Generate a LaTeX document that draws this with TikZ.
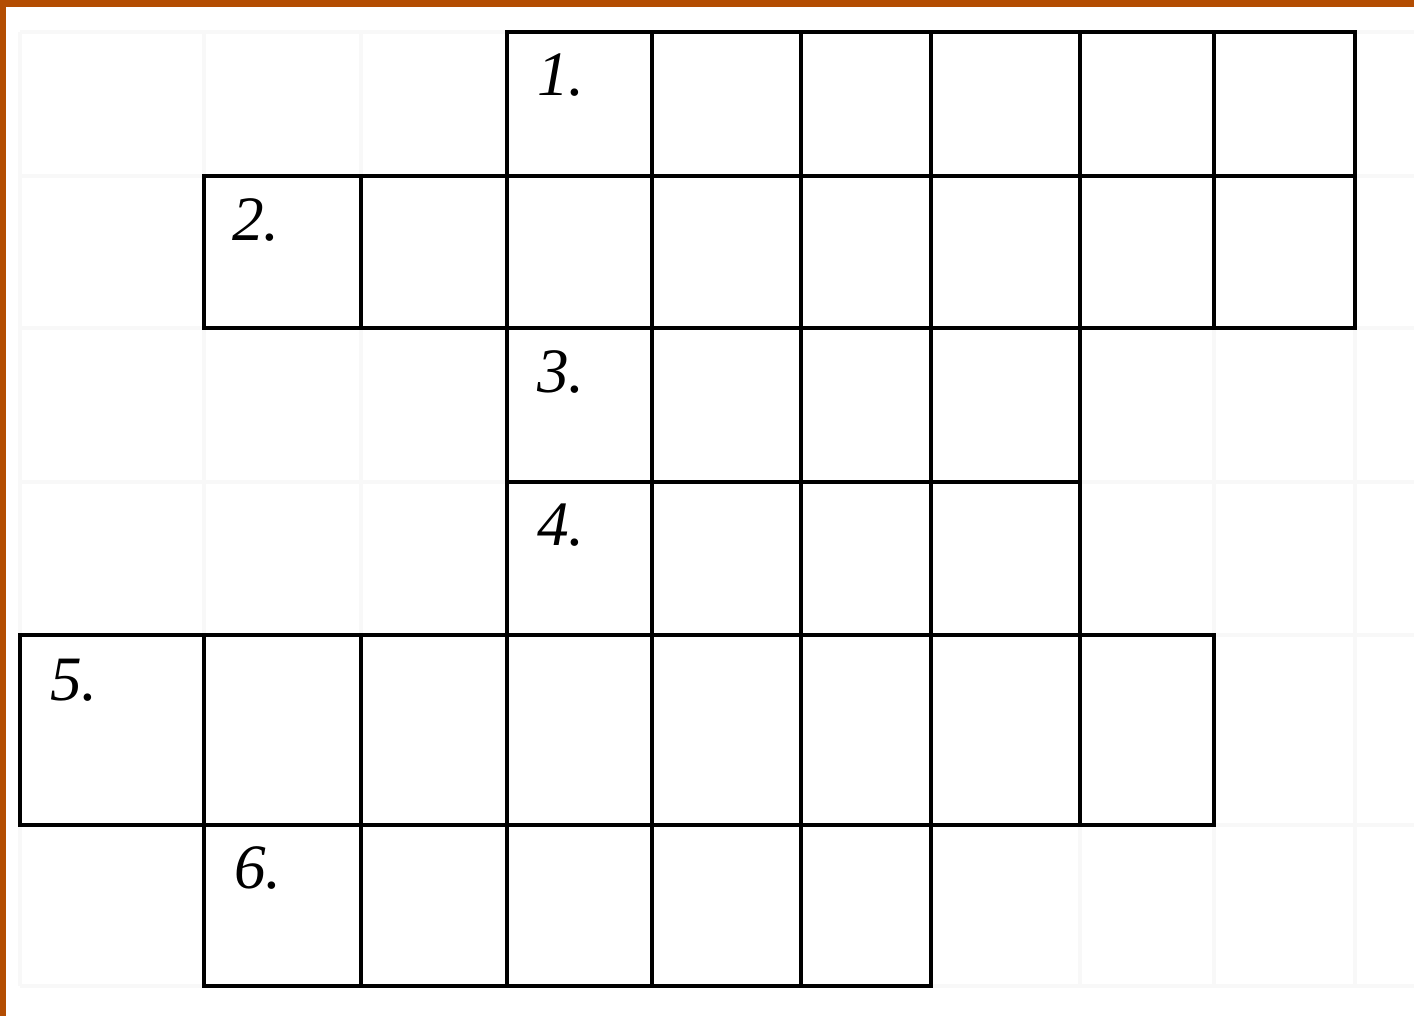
\documentclass[tikz,border=0pt]{standalone}
\usepackage{fontspec}
\setmainfont{Liberation Serif}
\definecolor{rimorange}{HTML}{B34D02}
\definecolor{faintgrid}{gray}{0.972}
\begin{document}
\begin{tikzpicture}[x=0.02cm,y=-0.02cm,
    cell/.style={draw=black,line width=1.9pt},
    ghost/.style={draw=faintgrid,line width=2.5pt},
    num/.style={font=\fontsize{36}{38}\selectfont\itshape,anchor=west,inner sep=0pt}]
\useasboundingbox (0,0) rectangle (1414,1016);
\fill[white] (0,0) rectangle (1414,1016);
\fill[rimorange] (0,0) rectangle (1414,7);
\fill[rimorange] (0,0) rectangle (6,1016);
% faint background grid
\foreach \y in {32,176,328,482,635,825,986}
{
    \draw[ghost] (20,\y)--(1414,\y);
}
\foreach \x in {20,204,361,507,652,801,931,1080,1214,1355}
{
    \draw[ghost] (\x,32)--(\x,986);
}
% crossword rows
\foreach \ya/\yb/\xa/\xb/\inner in {32/176/507/1355/{652,801,931,1080,1214},
    176/328/204/1355/{361,507,652,801,931,1080,1214},
    328/482/507/1080/{652,801,931},
    482/635/507/1080/{652,801,931},
    635/825/20/1214/{204,361,507,652,801,931,1080},
    825/986/204/931/{361,507,652,801}}
{
    \draw[cell] (\xa,\ya) rectangle (\xb,\yb);
    \foreach \x in \inner
    {
        \draw[cell] (\x,\ya)--(\x,\yb);
    }
}
\node[num] (num1) at (537,75) {1.};
\node[num] (num2) at (232,220) {2.};
\node[num] (num3) at (537,372) {3.};
\node[num] (num4) at (537,525) {4.};
\node[num] (num5) at (50,680) {5.};
\node[num] (num6) at (234,868) {6.};
\end{tikzpicture}
\end{document}
